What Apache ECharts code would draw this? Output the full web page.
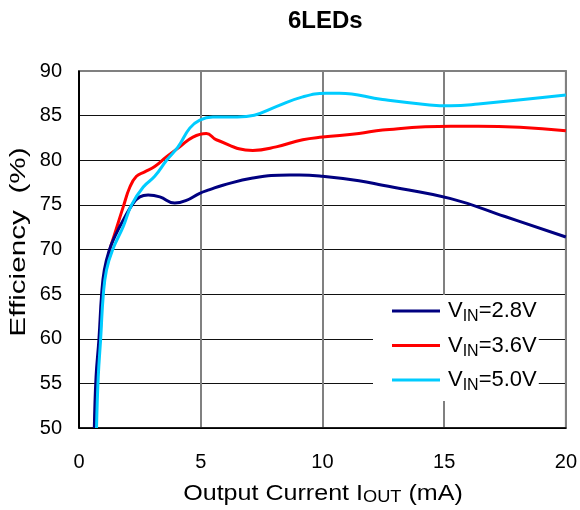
<!DOCTYPE html>
<html>
<head>
<meta charset="utf-8">
<script src="https://cdn.jsdelivr.net/npm/echarts@6/dist/echarts.min.js"></script>
<style>html,body{margin:0;padding:0;background:#fff}#c{width:580px;height:510px}</style>
</head>
<body>
<div id="c"></div>
<script>
const titleText = '6LEDs';
const seriesNames = ['V_IN=2.8V', 'V_IN=3.6V', 'V_IN=5.0V'];
const legendLabels = [['V', 'IN', '=2.8V'], ['V', 'IN', '=3.6V'], ['V', 'IN', '=5.0V']];
const xTicks = [0, 5, 10, 15, 20];
const yTicks = [50, 55, 60, 65, 70, 75, 80, 85, 90];

const vin28 = [[0.63,50],[0.70,55.7],[0.82,60],[0.93,65],[1.04,67.7],[1.24,69.9],[1.5,71.6],[1.82,73.3],[2.23,75.2],[2.5,75.9],[2.84,76.1],[3.32,75.9],[3.93,75.2],[4.41,75.5],[4.96,76.3],[5.37,76.7],[5.91,77.2],[7.14,78.0],[8.65,78.35],[9.06,78.35],[10.0,78.2],[11.5,77.7],[12.47,77.2],[15.27,75.7],[17.5,73.7],[20,71.4]];
const vin36 = [[0.66,50],[0.74,55.7],[0.86,60],[0.97,65],[1.1,67.9],[1.3,70.3],[1.45,71.6],[1.82,74.8],[2.09,77.0],[2.36,78.2],[2.7,78.7],[3.11,79.3],[3.6,80.4],[4.14,81.5],[4.68,82.6],[5.23,83.0],[5.64,82.3],[7.14,81.1],[8.1,81.5],[9.19,82.3],[10.0,82.6],[11.5,83.0],[12.47,83.4],[15.27,83.8],[16.4,83.8],[20,83.3]];
const vin50 = [[0.72,50],[0.79,55.7],[0.89,60],[1.0,65],[1.13,67.7],[1.37,69.9],[1.82,72.6],[2.16,75.0],[2.64,77.0],[3.11,78.2],[3.6,80.0],[4.07,81.5],[4.55,83.6],[4.96,84.5],[5.5,84.85],[6.5,84.85],[7.2,85.05],[8.1,86.0],[9.19,87.1],[10.15,87.5],[10.7,87.5],[12.47,86.8],[14.4,86.2],[15.27,86.1],[16.4,86.3],[20,87.3]];
const seriesData = [vin28, vin36, vin50];
const colors = ['#000080', '#ff0000', '#00ccff'];

const chart = echarts.init(document.getElementById('c'));
const FONT = '"Liberation Sans", Arial, sans-serif';

chart.setOption({
  animation: false,
  title: {
    text: titleText, left: 283, top: 4,
    textStyle: { fontFamily: FONT, fontSize: 24, fontWeight: 'bold', color: '#000' }
  },
  grid: { left: 79, right: 13, top: 71, bottom: 82, show: true, borderColor: '#808080', borderWidth: 2 },
  xAxis: {
    type: 'value', min: xTicks[0], max: xTicks[xTicks.length - 1], interval: 5,
    axisLine: { lineStyle: { color: '#000', width: 1.5 } },
    axisTick: { show: false },
    axisLabel: { color: '#000', fontFamily: FONT, fontSize: 20, margin: 24 },
    splitLine: { lineStyle: { color: ['#000', '#808080', '#808080', '#808080', '#808080'], width: 2 } }
  },
  yAxis: {
    type: 'value', min: yTicks[0], max: yTicks[yTicks.length - 1], interval: 5,
    axisLine: { show: true, lineStyle: { color: '#000', width: 1.5 } },
    axisTick: { show: false },
    axisLabel: { color: '#000', fontFamily: FONT, fontSize: 20, margin: 17 },
    splitLine: { lineStyle: { color: ['#000', '#111', '#111', '#111', '#111', '#111', '#111', '#111', '#808080'], width: 1.2 } }
  },
  legend: {
    orient: 'vertical', left: 373, top: 295,
    padding: [5, 2, 7, 19], itemGap: 9.5,
    backgroundColor: '#fff',
    itemWidth: 48, itemHeight: 3, icon: 'rect',
    data: seriesNames,
    formatter: function (name) {
      const l = legendLabels[seriesNames.indexOf(name)];
      return '{v|' + l[0] + '}{s|' + l[1] + '}{w|' + l[2] + '}';
    },
    textStyle: {
      rich: {
        v: { fontFamily: FONT, fontSize: 22, lineHeight: 28, color: '#000', padding: [0, 0, 0, 3] },
        s: { fontFamily: FONT, fontSize: 16, lineHeight: 17, verticalAlign: 'bottom', color: '#000' },
        w: { fontFamily: FONT, fontSize: 22, lineHeight: 28, color: '#000' }
      }
    }
  },
  graphic: [
    {
      type: 'text', x: 19, y: 242, rotation: Math.PI / 2, scaleX: 1.35, z: 10,
      style: { text: 'Efficiency  (%)', font: '22px ' + FONT, fill: '#000', textAlign: 'center', textVerticalAlign: 'middle' }
    },
    {
      type: 'text', x: 323, y: 494, scaleX: 1.14, z: 10,
      style: {
        text: '{a|Output Current I}{b|OUT}{a| (mA)}', textAlign: 'center', textVerticalAlign: 'middle',
        rich: {
          a: { fontFamily: FONT, fontSize: 22, fill: '#000', lineHeight: 24 },
          b: { fontFamily: FONT, fontSize: 16, fill: '#000', lineHeight: 19, verticalAlign: 'bottom' }
        }
      }
    }
  ],
  series: seriesData.map((d, i) => ({
    name: seriesNames[i], type: 'line', data: d, showSymbol: false, symbol: 'none',
    smooth: 0.45,
    z: [3, 2, 4][i],
    lineStyle: { color: colors[i], width: 3 }, itemStyle: { color: colors[i] }
  }))
});
</script>
</body>
</html>
